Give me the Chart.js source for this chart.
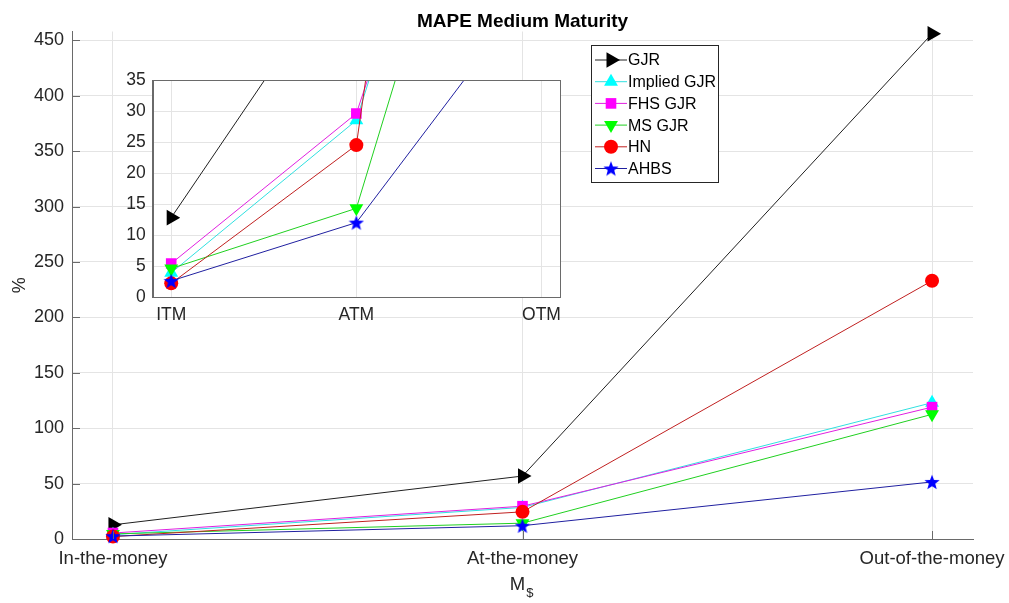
<!DOCTYPE html>
<html>
<head>
<meta charset="utf-8">
<script src="https://cdn.jsdelivr.net/npm/chart.js@4/dist/chart.umd.min.js"></script>
<style>
html, body { margin: 0; padding: 0; background: #fff; }
#wrap { position: relative; width: 1009px; height: 603px; }
#wrap canvas { position: absolute; left: 0; top: 0; }
</style>
</head>
<body>
<div id="wrap">
  <canvas id="main" width="1009" height="603"></canvas>
  <canvas id="inset" width="1009" height="603"></canvas>
</div>
<script>
// Moneyness buckets
const categories = ['In-the-money', 'At-the-money', 'Out-of-the-money'];
const insetCategories = ['ITM', 'ATM', 'OTM'];

// MAPE (%) per model, one value per moneyness bucket
const seriesNames = ['GJR', 'Implied GJR', 'FHS GJR', 'MS GJR', 'HN', 'AHBS'];
const gjr        = [12.8, 56.8, 456];
const impliedGjr = [3.9, 28.5, 123];
const fhsGjr     = [5.4, 29.6, 119];
const msGjr      = [4.6, 14.3, 112.5];
const hn         = [2.2, 24.5, 233];
const ahbs       = [2.6, 12.0, 51.5];

// Axis ticks
const yTicks = [0, 50, 100, 150, 200, 250, 300, 350, 400, 450];
const insetYTicks = [0, 5, 10, 15, 20, 25, 30, 35];
const xTickPositions = [1, 2, 3];

const FONT = '"Liberation Sans", Arial, Helvetica, sans-serif';
const TEXT = '#262626';
const AXIS = '#6a6a6a';
const GRID = '#e4e4e4';
Chart.defaults.font.family = FONT;
Chart.defaults.color = TEXT;

// five-pointed star marker
function starImage(size, color) {
  const c = document.createElement('canvas');
  c.width = c.height = size;
  const g = c.getContext('2d');
  const R = size / 2, r = R * 0.42, cy = R + R * 0.1;
  g.beginPath();
  for (let k = 0; k < 10; k++) {
    const a = -Math.PI / 2 + k * Math.PI / 5;
    const rad = k % 2 ? r : R;
    g.lineTo(R + rad * Math.cos(a), cy + rad * Math.sin(a));
  }
  g.closePath();
  g.fillStyle = color;
  g.fill();
  return c;
}

const seriesValues = [gjr, impliedGjr, fhsGjr, msGjr, hn, ahbs];
const seriesStyle = [
  { color: '#000000', line: '#202020', pointStyle: 'triangle', radius: 9, rotation: 90 },
  { color: '#00ffff', line: '#30e0e0', pointStyle: 'triangle', radius: 8, rotation: 0 },
  { color: '#ff00ff', line: '#e020e0', pointStyle: 'rect', radius: 7.5, rotation: 0 },
  { color: '#00ff00', line: '#20d020', pointStyle: 'triangle', radius: 8, rotation: 180 },
  { color: '#ff0000', line: '#c02020', pointStyle: 'circle', radius: 7, rotation: 0 },
  { color: '#0000ff', line: '#2020a0', pointStyle: starImage(16, '#0000ff'), radius: 8, rotation: 0 }
];

function makeDatasets(clip) {
  return seriesNames.map((name, i) => ({
    label: name,
    data: seriesValues[i].map((v, k) => ({ x: xTickPositions[k], y: v })),
    borderColor: seriesStyle[i].line,
    backgroundColor: seriesStyle[i].color,
    pointBackgroundColor: seriesStyle[i].color,
    pointBorderColor: seriesStyle[i].color,
    pointBorderWidth: 0,
    pointStyle: seriesStyle[i].pointStyle,
    pointRadius: seriesStyle[i].radius,
    pointRotation: seriesStyle[i].rotation,
    borderWidth: 1,
    tension: 0,
    order: seriesNames.length - 1 - i,
    clip: clip
  }));
}

// inward tick marks, title, axis labels and legend for the main axes
const mainDecor = {
  id: 'mainDecor',
  afterDatasetsDraw(chart) {
    const { ctx, chartArea: a, scales } = chart;
    ctx.save();
    ctx.strokeStyle = AXIS;
    ctx.lineWidth = 1;
    ctx.beginPath();
    xTickPositions.forEach(v => {
      const px = Math.round(scales.x.getPixelForValue(v)) + 0.5;
      ctx.moveTo(px, a.bottom); ctx.lineTo(px, a.bottom - 8);
    });
    yTicks.forEach(v => {
      const py = Math.round(scales.y.getPixelForValue(v)) + 0.5;
      ctx.moveTo(a.left, py); ctx.lineTo(a.left + 8, py);
    });
    ctx.stroke();
    ctx.restore();
  },
  afterDraw(chart) {
    const { ctx, chartArea: a } = chart;
    ctx.save();
    // title
    ctx.fillStyle = '#000';
    ctx.font = 'bold 19px ' + FONT;
    ctx.textAlign = 'center';
    ctx.textBaseline = 'alphabetic';
    ctx.fillText('MAPE Medium Maturity', (a.left + a.right) / 2, 27);
    // y label
    ctx.fillStyle = TEXT;
    ctx.font = '18px ' + FONT;
    ctx.save();
    ctx.translate(25, (a.top + a.bottom) / 2);
    ctx.rotate(-Math.PI / 2);
    ctx.textAlign = 'center';
    ctx.fillText('%', 0, 0);
    ctx.restore();
    // x label with subscript
    ctx.textAlign = 'left';
    ctx.font = '18.5px ' + FONT;
    const mW = ctx.measureText('M').width;
    const xc = (a.left + a.right) / 2;
    ctx.fillText('M', xc - mW / 2 - 5, 590);
    ctx.font = '13px ' + FONT;
    ctx.fillText('$', xc + mW / 2 - 4, 597);

    // legend
    const box = { x: 591.5, y: 45.5, w: 127, h: 137 };
    ctx.fillStyle = '#fff';
    ctx.fillRect(box.x, box.y, box.w, box.h);
    ctx.strokeStyle = '#262626';
    ctx.lineWidth = 1;
    ctx.strokeRect(box.x, box.y, box.w, box.h);
    ctx.font = '16px ' + FONT;
    ctx.textBaseline = 'middle';
    seriesNames.forEach((name, i) => {
      const y = 60 + i * 21.7;
      const st = seriesStyle[i];
      ctx.strokeStyle = st.line;
      ctx.beginPath();
      ctx.moveTo(595, y); ctx.lineTo(627, y);
      ctx.stroke();
      ctx.fillStyle = st.color;
      Chart.helpers.drawPoint(ctx, {
        pointStyle: st.pointStyle, radius: st.radius, rotation: st.rotation, borderWidth: 0
      }, 611, y);
      ctx.fillStyle = '#000';
      ctx.fillText(name, 628, y + 1);
    });
    ctx.restore();
  }
};

new Chart(document.getElementById('main'), {
  type: 'line',
  data: { datasets: makeDatasets(false) },
  plugins: [mainDecor],
  options: {
    responsive: false,
    animation: false,
    events: [],
    layout: { padding: { top: 31.5, right: 36, left: 0, bottom: 0 } },
    plugins: { legend: { display: false }, tooltip: { enabled: false }, title: { display: false } },
    scales: {
      x: {
        type: 'linear', min: 0.9, max: 3.1,
        afterBuildTicks: s => { s.ticks = xTickPositions.map(v => ({ value: v })); },
        afterFit: s => { s.height = 64; s.paddingLeft = 0; s.paddingRight = 0; },
        ticks: { callback: (v, i) => categories[i], autoSkip: false, maxRotation: 0, minRotation: 0,
                 padding: 9, color: TEXT, font: { size: 18.5 } },
        grid: { color: GRID, lineWidth: 1, drawTicks: false },
        border: { display: true, color: AXIS, width: 1 }
      },
      y: {
        type: 'linear', min: 0, max: 458,
        afterBuildTicks: s => { s.ticks = yTicks.map(v => ({ value: v })); },
        afterFit: s => { s.width = 72; s.paddingTop = 0; s.paddingBottom = 0; },
        ticks: { padding: 8, color: TEXT, font: { size: 18 } },
        grid: { color: GRID, lineWidth: 1, drawTicks: false },
        border: { display: true, color: AXIS, width: 1 }
      }
    }
  }
});

// white plot box with a frame for the zoomed view
const insetFrame = {
  id: 'insetFrame',
  beforeDraw(chart) {
    const { ctx, chartArea: a } = chart;
    ctx.save();
    ctx.fillStyle = '#fff';
    ctx.fillRect(a.left, a.top, a.right - a.left, a.bottom - a.top);
    ctx.restore();
  },
  afterDraw(chart) {
    const { ctx, chartArea: a } = chart;
    ctx.save();
    ctx.strokeStyle = AXIS;
    ctx.lineWidth = 1;
    ctx.strokeRect(Math.round(a.left) + 0.5, Math.round(a.top) + 0.5,
                   Math.round(a.right - a.left), Math.round(a.bottom - a.top));
    ctx.restore();
  }
};

new Chart(document.getElementById('inset'), {
  type: 'line',
  data: { datasets: makeDatasets(0) },
  plugins: [insetFrame],
  options: {
    responsive: false,
    animation: false,
    events: [],
    layout: { padding: { top: 80, right: 449, left: 112.7, bottom: 276 } },
    plugins: { legend: { display: false }, tooltip: { enabled: false }, title: { display: false } },
    scales: {
      x: {
        type: 'linear', min: 0.9, max: 3.1,
        afterBuildTicks: s => { s.ticks = xTickPositions.map(v => ({ value: v })); },
        afterFit: s => { s.height = 30; s.paddingLeft = 0; s.paddingRight = 0; },
        ticks: { callback: (v, i) => insetCategories[i], autoSkip: false, maxRotation: 0, minRotation: 0,
                 padding: 8, color: TEXT, font: { size: 17.5 } },
        grid: { color: GRID, lineWidth: 1, drawTicks: false },
        border: { display: true, color: AXIS, width: 1 }
      },
      y: {
        type: 'linear', min: 0, max: 35,
        afterBuildTicks: s => { s.ticks = insetYTicks.map(v => ({ value: v })); },
        afterFit: s => { s.width = 40; s.paddingTop = 0; s.paddingBottom = 0; },
        ticks: { padding: 7, color: TEXT, font: { size: 17.5 } },
        grid: { color: GRID, lineWidth: 1, drawTicks: false },
        border: { display: true, color: AXIS, width: 1 }
      }
    }
  }
});
</script>
</body>
</html>
